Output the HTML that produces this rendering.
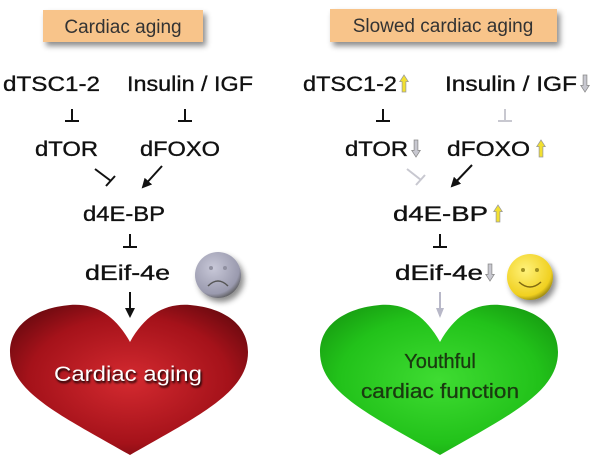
<!DOCTYPE html>
<html><head><meta charset="utf-8"><style>
html,body{margin:0;padding:0;background:#fff;}
svg{display:block;font-family:"Liberation Sans",sans-serif;}
.t{font-size:21px;fill:#111;stroke:#111;stroke-width:0.35;}
</style></head><body>
<svg width="601" height="463" viewBox="0 0 601 463">
<defs>
<radialGradient id="red" cx="0.5" cy="0.5" r="0.6"><stop offset="0" stop-color="#d42a30"/><stop offset="0.7" stop-color="#a5121a"/><stop offset="1" stop-color="#6e0a10"/></radialGradient>
<radialGradient id="grn" cx="0.5" cy="0.5" r="0.6"><stop offset="0" stop-color="#3fdc32"/><stop offset="0.7" stop-color="#22c21a"/><stop offset="1" stop-color="#18a012"/></radialGradient>
<radialGradient id="gface" cx="0.4" cy="0.35" r="0.7"><stop offset="0" stop-color="#c8c8d8"/><stop offset="0.8" stop-color="#9a9aae"/><stop offset="1" stop-color="#555"/></radialGradient>
<radialGradient id="yface" cx="0.4" cy="0.35" r="0.7"><stop offset="0" stop-color="#fff27a"/><stop offset="0.8" stop-color="#f0d020"/><stop offset="1" stop-color="#8a7a10"/></radialGradient>
<filter id="sh" x="-20%" y="-20%" width="150%" height="160%"><feDropShadow dx="3" dy="4" stdDeviation="3" flood-color="#000" flood-opacity="0.45"/></filter>
<marker id="ah" markerUnits="userSpaceOnUse" markerWidth="10" markerHeight="10" refX="8" refY="5" orient="auto"><path d="M0,0 L10,5 L0,10 Z" fill="#111"/></marker>
<marker id="ahg" markerUnits="userSpaceOnUse" markerWidth="10" markerHeight="10" refX="8" refY="5" orient="auto"><path d="M0,1 L10,5 L0,9 Z" fill="#b8b8c8"/></marker>
<symbol id="up" viewBox="0 0 10 20"><path d="M5,1 L9.5,8 L7,8 L7,19 L3,19 L3,8 L0.5,8 Z" fill="#f2e030" stroke="#999" stroke-width="0.8"/></symbol>
<symbol id="dn" viewBox="0 0 10 20"><path d="M5,19 L9.5,12 L7,12 L7,1 L3,1 L3,12 L0.5,12 Z" fill="#c8c8d0" stroke="#888" stroke-width="0.8"/></symbol>
</defs>

<g>
<rect x="43" y="10" width="160" height="32" fill="#f8c48a" filter="url(#sh)"/>
<text x="123" y="33" font-size="19" text-anchor="middle" fill="#333">Cardiac aging</text>
<g class="t">
<text x="3" y="91" textLength="97" lengthAdjust="spacingAndGlyphs">dTSC1-2</text>
<text x="127" y="91" textLength="126" lengthAdjust="spacingAndGlyphs">Insulin / IGF</text>
<text x="35" y="156" textLength="63" lengthAdjust="spacingAndGlyphs">dTOR</text>
<text x="140" y="156" textLength="80" lengthAdjust="spacingAndGlyphs">dFOXO</text>
<text x="83" y="221" textLength="82" lengthAdjust="spacingAndGlyphs">d4E-BP</text>
<text x="85" y="280" textLength="85" lengthAdjust="spacingAndGlyphs">dEif-4e</text>
</g>
<g stroke="#111" stroke-width="2" fill="none">
<path d="M72,109 V121 M65,121 H79"/>
<path d="M185,109 V121 M178,121 H192"/>
<path d="M95,169 L111,181 M106,186 L115,176"/>
<path d="M162,166 L143,187" marker-end="url(#ah)"/>
<path d="M130,234 V247 M123,247 H137"/>
<path d="M130,292 V316" marker-end="url(#ah)"/>
</g>
<g>
<circle cx="218" cy="275" r="23" fill="url(#gface)" filter="url(#sh)"/>
<circle cx="211" cy="268" r="2" fill="#9090a0"/><circle cx="225" cy="268" r="2" fill="#9090a0"/>
<path d="M208,286 Q218,276 228,286" stroke="#555" stroke-width="1.5" fill="none"/>
</g>
<path d="M130,342 C115,315 95,303 70,305 C35,308 10,325 10,352 C10,392 60,415 130,455 C200,415 248,392 248,352 C248,325 225,308 190,305 C165,303 145,315 130,342 Z" fill="url(#red)"/>
<text x="128" y="381" font-size="21" text-anchor="middle" fill="#fff" textLength="148" lengthAdjust="spacingAndGlyphs" style="text-shadow:1px 2px 2px #000">Cardiac aging</text>
</g>

<g>
<rect x="330" y="9" width="227" height="33" fill="#f8c48a" filter="url(#sh)"/>
<text x="443" y="32" font-size="19" text-anchor="middle" fill="#333">Slowed cardiac aging</text>
<g class="t">
<text x="303" y="91" textLength="94" lengthAdjust="spacingAndGlyphs">dTSC1-2</text>
<text x="445" y="91" textLength="132" lengthAdjust="spacingAndGlyphs">Insulin / IGF</text>
<text x="345" y="156" textLength="63" lengthAdjust="spacingAndGlyphs">dTOR</text>
<text x="447" y="156" textLength="83" lengthAdjust="spacingAndGlyphs">dFOXO</text>
<text x="393" y="221" textLength="95" lengthAdjust="spacingAndGlyphs">d4E-BP</text>
<text x="395" y="280" textLength="88" lengthAdjust="spacingAndGlyphs">dEif-4e</text>
</g>
<use href="#up" x="398" y="74" width="12" height="19"/>
<use href="#dn" x="579" y="74" width="12" height="19"/>
<use href="#dn" x="410" y="139" width="12" height="19"/>
<use href="#up" x="535" y="139" width="12" height="19"/>
<use href="#up" x="492" y="204" width="12" height="19"/>
<use href="#dn" x="484" y="263" width="12" height="19"/>
<g stroke-width="2" fill="none">
<path d="M383,109 V121 M376,121 H390" stroke="#111"/>
<path d="M505,109 V121 M498,121 H512" stroke="#c8c8d0"/>
<path d="M407,169 L421,180 M416,185 L425,175" stroke="#c8c8d0"/>
<path d="M472,165 L452,186" stroke="#111" marker-end="url(#ah)"/>
<path d="M440,234 V247 M433,247 H447" stroke="#111"/>
<path d="M440,292 V316" stroke="#b8b8c8" marker-end="url(#ahg)"/>
</g>
<g>
<circle cx="530" cy="277" r="23" fill="url(#yface)" filter="url(#sh)"/>
<circle cx="523" cy="270" r="2" fill="#a09020"/><circle cx="537" cy="270" r="2" fill="#a09020"/>
<path d="M519,282 Q530,292 541,282" stroke="#806a10" stroke-width="1.5" fill="none"/>
</g>
<path d="M440,342 C425,315 405,303 380,305 C345,308 320,325 320,352 C320,392 370,415 440,455 C510,415 558,392 558,352 C558,325 535,308 500,305 C475,303 455,315 440,342 Z" fill="url(#grn)"/>
<text x="440" y="368" font-size="20" text-anchor="middle" fill="#1a3a10" stroke="#1a3a10" stroke-width="0.3">Youthful</text>
<text x="440" y="398" font-size="20" text-anchor="middle" fill="#1a3a10" stroke="#1a3a10" stroke-width="0.3" textLength="158" lengthAdjust="spacingAndGlyphs">cardiac function</text>
</g>
</svg>
</body></html>
